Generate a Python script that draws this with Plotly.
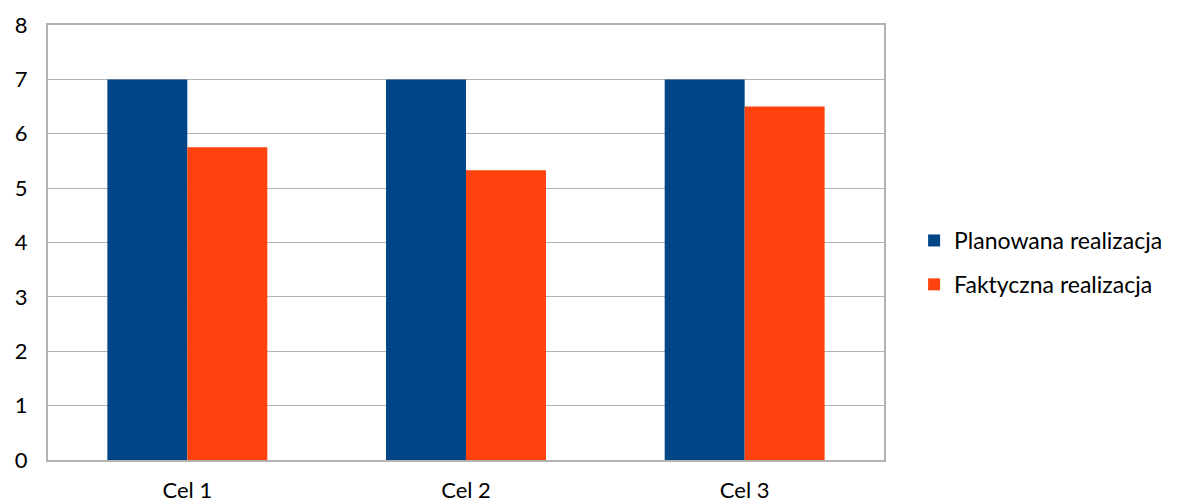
import plotly.graph_objects as go

categories = ["Cel 1", "Cel 2", "Cel 3"]
planned = [7, 7, 7]
actual = [5.75, 5.33, 6.5]
series_names = ["Planowana realizacja", "Faktyczna realizacja"]
colors = ["#004586", "#FF420E"]

fig = go.Figure()
fig.add_trace(go.Bar(x=categories, y=planned, name=series_names[0], marker_color=colors[0],
                     marker_line_width=0, legendgroup="a"))
fig.add_trace(go.Bar(x=categories, y=actual, name=series_names[1], marker_color=colors[1],
                     marker_line_width=0, legendgroup="b"))

fig.update_layout(
    width=1177, height=504,
    margin=dict(l=40, r=301, t=17, b=52, autoexpand=False),
    paper_bgcolor="white", plot_bgcolor="white",
    barmode="group", bargap=0.426, bargroupgap=0,
    font=dict(family="Lato", size=22, color="#000000"),
    legend=dict(x=1.036, y=0.454, xanchor="left", yanchor="middle",
                font=dict(size=23), itemsizing="constant", traceorder="grouped",
                tracegroupgap=11, bgcolor="rgba(0,0,0,0)"),
    showlegend=True,
)
fig.update_xaxes(showline=True, linecolor="#b3b3b3", linewidth=2, mirror=True,
                 ticks="", showgrid=False, ticklabelstandoff=10, automargin=False)
fig.update_yaxes(range=[0, 8], dtick=1, showline=True, linecolor="#b3b3b3", linewidth=2,
                 mirror=True, gridcolor="#b3b3b3", gridwidth=1, zeroline=False,
                 ticks="", ticklabelstandoff=14, automargin=False)

fig.write_html("out.html")
